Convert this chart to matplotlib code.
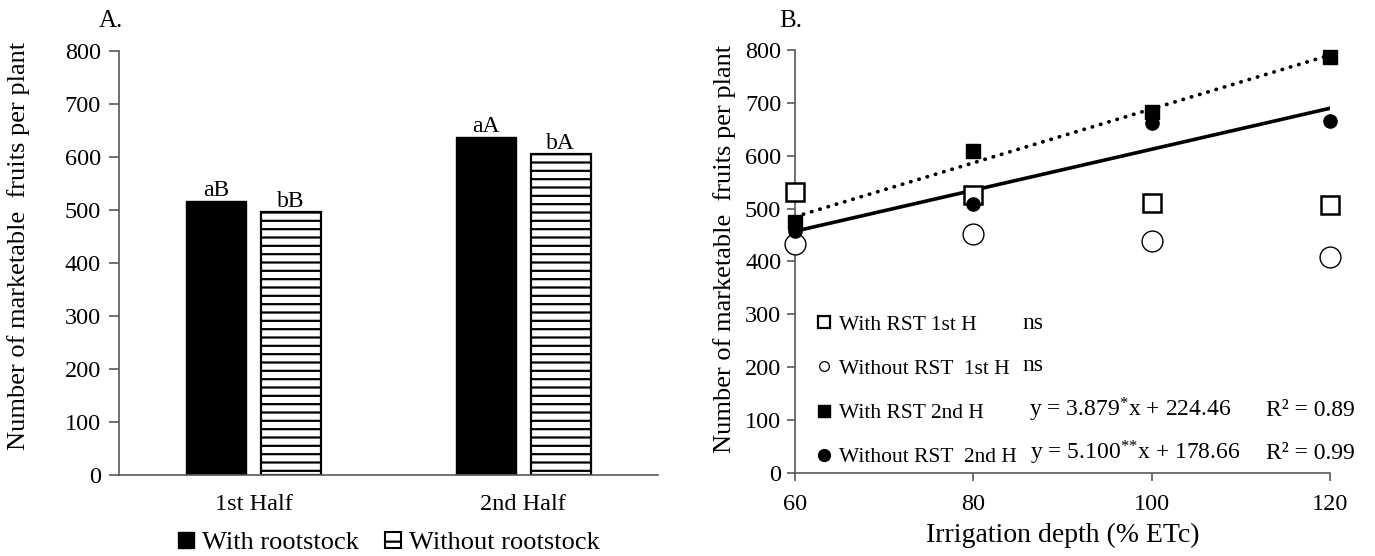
import numpy as np
import matplotlib
matplotlib.use("Agg")
import matplotlib.pyplot as plt
from matplotlib.patches import Patch
from matplotlib.lines import Line2D

plt.rcParams['font.family'] = ['Liberation Serif', 'DejaVu Serif']
plt.rcParams['mathtext.fontset'] = 'custom'
plt.rcParams['mathtext.rm'] = 'Liberation Serif'
plt.rcParams['mathtext.it'] = 'Liberation Serif'
plt.rcParams['mathtext.default'] = 'regular'
plt.rcParams['hatch.linewidth'] = 1.6

# panel A data
halves = ["1st Half", "2nd Half"]
with_rootstock = [517, 637]
without_rootstock = [497, 606]
letters_with = ["aB", "aA"]
letters_without = ["bB", "bA"]

# panel B data
irrigation = [60, 80, 100, 120]
with_rst_1st = [532, 525, 510, 506]
without_rst_1st = [433, 452, 438, 409]
with_rst_2nd = [474, 610, 683, 787]
without_rst_2nd = [458, 509, 663, 665]
# fitted equations as printed (slope, intercept)
fit_dotted = (5.100, 178.66)
fit_solid = (3.879, 224.46)

axis_col = '#595959'
tick_fs = 17.5

fig = plt.figure(figsize=(13.75, 5.56), dpi=100)

# ---------------- A ----------------
axA = fig.add_axes([0.0865, 0.1448, 0.392, 0.764])
x = np.arange(len(halves))
w = 0.223
off = 0.139
b1 = axA.bar(x - off, with_rootstock, w, color='black', edgecolor='black', linewidth=1)
b2 = axA.bar(x + off, without_rootstock, w, color='white', edgecolor='black',
             linewidth=1.6, hatch='--')
axA.bar_label(b1, labels=letters_with, padding=0, fontsize=17)
axA.bar_label(b2, labels=letters_without, padding=0, fontsize=17)
axA.set_xlim(-0.5, 1.5)
axA.set_ylim(0, 800)
axA.set_yticks(range(0, 801, 100))
axA.set_xticks(x)
axA.set_xticklabels(halves)
axA.tick_params(axis='x', length=0, pad=13, labelsize=tick_fs)
axA.tick_params(axis='y', direction='out', length=7, width=1.2, color=axis_col,
                labelsize=tick_fs, pad=6)
for s in ['top', 'right']:
    axA.spines[s].set_visible(False)
for s in ['left', 'bottom']:
    axA.spines[s].set_color(axis_col)
    axA.spines[s].set_linewidth(1.2)
axA.set_ylabel("Number of marketable  fruits per plant", fontsize=19)
axA.yaxis.set_label_coords(-0.165, 0.54)
fig.text(0.0715, 0.962, "A.", fontsize=18, va='center')

fig.legend(handles=[Patch(facecolor='black', edgecolor='black'),
                    Patch(facecolor='white', edgecolor='black', hatch='-', linewidth=1.5)],
           labels=["With rootstock", "Without rootstock"],
           loc='center', bbox_to_anchor=(0.283, 0.0234), ncol=2, frameon=False,
           fontsize=19, handlelength=0.6, handleheight=0.6, handletextpad=0.3,
           columnspacing=1.0, borderpad=0)

# ---------------- B ----------------
axB = fig.add_axes([0.5782, 0.1498, 0.389, 0.760])
xs = np.array([irrigation[0], irrigation[-1]])
axB.plot(xs, fit_dotted[0] * xs + fit_dotted[1], color='black', lw=2.7,
         linestyle=(0, (0.1, 2.2)), dash_capstyle='round', zorder=2)
axB.plot(xs, fit_solid[0] * xs + fit_solid[1], color='black', lw=2.6, zorder=2)
axB.plot(irrigation, with_rst_1st, 's', ms=12.5, mfc='white', mec='black', mew=1.8,
         zorder=3, clip_on=False)
axB.plot(irrigation, without_rst_1st, 'o', ms=15, mfc='white', mec='black', mew=1.0,
         zorder=3, clip_on=False)
axB.plot(irrigation, without_rst_2nd, 'o', ms=9.5, color='black', zorder=4, clip_on=False)
axB.plot(irrigation, with_rst_2nd, 's', ms=10.5, color='black', zorder=4, clip_on=False)

axB.set_xlim(60, 120)
axB.set_ylim(0, 800)
axB.set_xticks(irrigation)
axB.set_yticks(range(0, 801, 100))
axB.tick_params(direction='out', length=6, width=1.2, color=axis_col, labelsize=tick_fs)
axB.tick_params(axis='x', pad=9)
axB.tick_params(axis='y', pad=4)
for s in ['top', 'right']:
    axB.spines[s].set_visible(False)
for s in ['left', 'bottom']:
    axB.spines[s].set_color(axis_col)
    axB.spines[s].set_linewidth(1.2)
axB.set_ylabel("Number of marketable  fruits per plant", fontsize=19)
axB.yaxis.set_label_coords(-0.11, 0.53)
axB.set_xlabel("Irrigation depth (% ETc)", fontsize=20)
axB.xaxis.set_label_coords(0.5, -0.118)
fig.text(0.5665, 0.962, "B.", fontsize=18, va='center')

handles = [
    Line2D([], [], ls='none', marker='s', ms=8.5, mfc='white', mec='black', mew=1.6),
    Line2D([], [], ls='none', marker='o', ms=7, mfc='white', mec='black', mew=0.9),
    Line2D([], [], ls='none', marker='s', ms=8.5, color='black'),
    Line2D([], [], ls='none', marker='o', ms=8.5, color='black'),
]
labels = ["With RST 1st H", "Without RST  1st H", "With RST 2nd H", "Without RST  2nd H"]
axB.legend(handles, labels, loc='upper left', bbox_to_anchor=(0.038, 0.374),
           frameon=False, fontsize=15.5, handlelength=0.8, handletextpad=0.3,
           labelspacing=1.12, borderpad=0, borderaxespad=0)

eq_fs = 17
axB.text(85.46, 282.7, "ns", fontsize=eq_fs, va='center')
axB.text(85.46, 203.8, "ns", fontsize=eq_fs, va='center')
axB.text(86.2, 118.6, r"y = %.3f$^{*}$x + %.2f" % fit_solid, fontsize=eq_fs, va='center')
axB.text(86.4, 36.7, r"y = %.3f$^{{*}{*}}$x + %.2f" % fit_dotted, fontsize=eq_fs, va='center')
axB.text(122.8, 118.6, "R² = 0.89", fontsize=eq_fs, va='center', ha='right')
axB.text(122.8, 36.7, "R² = 0.99", fontsize=eq_fs, va='center', ha='right')

fig.savefig("out.png", dpi=100)
